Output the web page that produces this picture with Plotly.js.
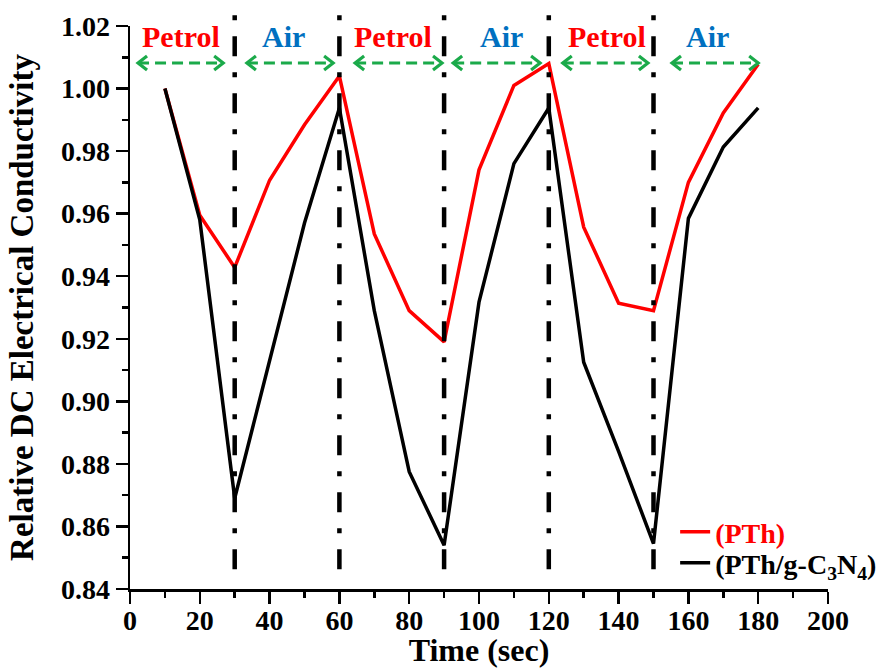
<!DOCTYPE html>
<html>
<head>
<meta charset="utf-8">
<script src="https://cdn.plot.ly/plotly-3.0.1.min.js"></script>
<style>html,body{margin:0;padding:0;background:#fff;}#chart{width:882px;height:668px;}</style>
</head>
<body>
<div id="chart"></div>
<script>
// ---- data ----
const timeSec = [10,20,30,40,50,60,70,80,90,100,110,120,130,140,150,160,170,180];
const pth = [1.000,0.9595,0.9428,0.9707,0.9884,1.0040,0.9535,0.9290,0.9190,0.9740,1.0010,1.0080,0.9557,0.9314,0.9290,0.9700,0.9922,1.0078];
const pthC3N4 = [1.000,0.9580,0.8690,0.9130,0.9570,0.9938,0.9290,0.8775,0.8540,0.9317,0.9760,0.9938,0.9125,0.8840,0.8545,0.9585,0.9813,0.9938];
const switchTimes = [30,60,90,120,150];
const phaseLabels = ['Petrol','Air','Petrol','Air','Petrol','Air'];
const phaseLabelX = [14.6,44,75.4,106.4,136.6,165.4];
const phaseArrowStart = [2.3,33.5,64.5,92.6,124,155.3];
const phaseArrowEnd = [26.7,58.2,89.4,117.5,148.4,180];
const seriesNames = ['(PTh)','(PTh/g-C<sub>3</sub>N<sub>4</sub>)'];
const yTicks = [0.84,0.86,0.88,0.90,0.92,0.94,0.96,0.98,1.00,1.02];

// ---- styles ----
const RED = '#FF0000', BLUE = '#0070C0', GREEN = '#1BAA4A', BLACK = '#000000';
const FONT = 'Liberation Serif';
const labelY = 1.0165, arrowY = 1.0082;

const traces = [
  {x: timeSec, y: pth, type:'scatter', mode:'lines', legend:'legend',
   name:'<span style="color:'+RED+'">'+seriesNames[0]+'</span>',
   line:{color:RED, width:3.5}},
  {x: timeSec, y: pthC3N4, type:'scatter', mode:'lines', legend:'legend2',
   name:seriesNames[1],
   line:{color:BLACK, width:3.5}}
];

const shapes = [];
switchTimes.forEach(t => shapes.push({
  type:'line', xref:'x', yref:'paper', x0:t, x1:t, y0:0.035, y1:1.03,
  line:{color:BLACK, width:4.5, dash:'20px,16px,5px,16px'}, layer:'above'
}));
phaseArrowStart.forEach((s,i) => {
  const e = phaseArrowEnd[i];
  shapes.push({type:'line', xref:'x', yref:'y', x0:s, x1:e, y0:arrowY, y1:arrowY,
    line:{color:GREEN, width:3, dash:'11px,6px'}, layer:'above'});
  shapes.push({type:'path', xref:'x', yref:'y', xsizemode:'pixel', ysizemode:'pixel',
    xanchor:e, yanchor:arrowY, path:'M -9,7 L 0,0 L -9,-7',
    line:{color:GREEN, width:3.2}, fillcolor:'rgba(0,0,0,0)', layer:'above'});
  shapes.push({type:'path', xref:'x', yref:'y', xsizemode:'pixel', ysizemode:'pixel',
    xanchor:s, yanchor:arrowY, path:'M 9,7 L 0,0 L 9,-7',
    line:{color:GREEN, width:3.2}, fillcolor:'rgba(0,0,0,0)', layer:'above'});
});

const annotations = [];
phaseLabels.forEach((lab,i) => annotations.push({
  x: phaseLabelX[i], y: labelY, xref:'x', yref:'y', text: lab, showarrow:false,
  font:{family:FONT, size:30, color: lab==='Air' ? BLUE : RED, weight:'bold'},
  xanchor:'center', yanchor:'middle'
}));

const legendFont = {family:FONT, size:28, color:BLACK, weight:'bold'};
const layout = {
  width:882, height:668,
  margin:{l:130, r:54, t:26, b:79, autoexpand:false},
  paper_bgcolor:'#fff', plot_bgcolor:'#fff',
  font:{family:FONT, size:28, color:BLACK, weight:'bold'},
  showlegend:true,
  legend:{x:0.781, y:0.101, xanchor:'left', yanchor:'middle', bgcolor:'rgba(0,0,0,0)', font:legendFont},
  legend2:{x:0.781, y:0.046, xanchor:'left', yanchor:'middle', bgcolor:'rgba(0,0,0,0)', font:legendFont},
  xaxis:{
    range:[0,200], dtick:20, tick0:0, showgrid:false, zeroline:false,
    showline:true, linecolor:BLACK, linewidth:2.5, mirror:false,
    ticks:'outside', ticklen:12, tickwidth:2.5, tickcolor:BLACK, ticklabelstandoff:-7,
    minor:{dtick:10, ticks:'outside', ticklen:6, tickwidth:2.5, tickcolor:BLACK, showgrid:false},
    tickfont:{family:FONT, size:28, weight:'bold'},
    title:{text:'Time (sec)', font:{family:FONT, size:32, weight:'bold'}, standoff:2}
  },
  yaxis:{
    range:[0.84,1.02], tickvals:yTicks, tickformat:'.2f', showgrid:false, zeroline:false,
    showline:true, linecolor:BLACK, linewidth:2.5, mirror:false,
    ticks:'outside', ticklen:12, tickwidth:2.5, tickcolor:BLACK,
    minor:{dtick:0.01, tick0:0.84, ticks:'outside', ticklen:6, tickwidth:2.5, tickcolor:BLACK, showgrid:false},
    tickfont:{family:FONT, size:28, weight:'bold'},
    title:{text:'Relative DC Electrical Conductivity', font:{family:FONT, size:33, weight:'bold'}, standoff:18}
  },
  shapes: shapes,
  annotations: annotations
};

Plotly.newPlot('chart', traces, layout, {displayModeBar:false, staticPlot:true});
</script>
</body>
</html>
